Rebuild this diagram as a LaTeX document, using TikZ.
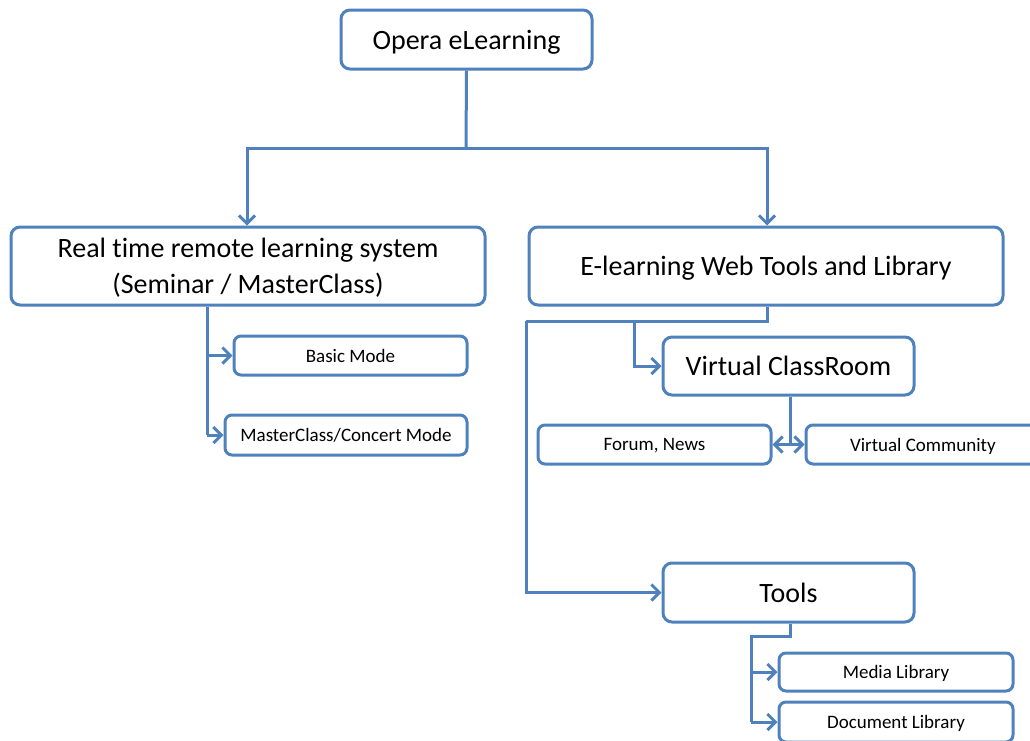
\documentclass[tikz,border=0pt]{standalone}
\usepackage{fontspec}
\setmainfont{Carlito}[Ligatures={NoCommon}]
\usetikzlibrary{arrows.meta}
\definecolor{boxblue}{HTML}{4F81BD}
\tikzset{
  bigbox/.style={draw=boxblue, line width=3pt, rounded corners=9pt, fill=white, align=center, font=\fontsize{28}{36}\selectfont, inner sep=0pt, text depth=0pt},
  smallbox/.style={draw=boxblue, line width=3pt, rounded corners=7pt, fill=white, align=center, font=\fontsize{19}{23}\selectfont, inner sep=0pt, text depth=0pt},
  conn/.style={draw=boxblue, line width=3pt},
  arr/.style={conn, -{Straight Barb[length=8pt,width=16pt,line width=3pt]}},
  darr/.style={conn, {Straight Barb[length=8pt,width=16pt,line width=3pt]}-{Straight Barb[length=8pt,width=16pt,line width=3pt]}}
}
\begin{document}
\begin{tikzpicture}[x=1pt,y=-1pt]
\useasboundingbox (0,0) rectangle (1030,740);
\clip (0,0) rectangle (1030,740);
% nodes
\node[bigbox, minimum width=251pt, minimum height=59pt] (opera) at (466.5,39.5) {Opera eLearning};
\node[bigbox, minimum width=474pt, minimum height=78pt] (rt) at (248,266) {Real time remote learning system\\(Seminar / MasterClass)};
\node[bigbox, minimum width=474pt, minimum height=78pt] (el) at (766,266) {E-learning Web Tools and Library};
\node[smallbox, minimum width=233pt, minimum height=39pt] (basic) at (350.5,355.5) {Basic Mode};
\node[smallbox, minimum width=242pt, minimum height=40pt] (master) at (346,435) {MasterClass/Concert Mode};
\node[bigbox, minimum width=251pt, minimum height=58pt] (vc) at (788.5,366) {Virtual ClassRoom};
\node[smallbox, minimum width=233pt, minimum height=39pt] (forum) at (654.5,444.5) {Forum, News};
\node[smallbox, minimum width=244pt, minimum height=39pt] (comm) at (928,444.5) {\makebox[234pt][l]{\hspace*{39pt}Virtual Community}};
\node[bigbox, minimum width=251pt, minimum height=59pt] (tools) at (788.5,592.5) {Tools};
\node[smallbox, minimum width=234pt, minimum height=38pt] (media) at (896,672) {Media Library};
\node[smallbox, minimum width=234pt, minimum height=40pt] (doc) at (896,722) {Document Library};
% coordinates
\coordinate (t1) at (466,148);
\coordinate (t2) at (247,148);
\coordinate (t3) at (767,148);
\coordinate (r1) at (207,355.5);
\coordinate (r2) at (207,435);
\coordinate (e1) at (767,321);
\coordinate (e2) at (526,321);
\coordinate (e3) at (526,592.5);
\coordinate (e4) at (634,321);
\coordinate (e5) at (634,366);
\coordinate (v1) at (790,444.5);
\coordinate (s1) at (790,636);
\coordinate (s2) at (751,636);
\coordinate (s3) at (751,672);
\coordinate (s4) at (751,722);
% connectors
\draw[conn] (opera.south) -- (t1);
\draw[arr] (t1) -- (t2) -- (t2 |- rt.north);
\draw[arr] (t1) -- (t3) -- (t3 |- el.north);
\draw[conn] (rt.south -| r1) -- (r2);
\draw[arr] (r1) -- (basic.west);
\draw[arr] (r2) -- (master.west);
\draw[conn] (el.south -| e1) -- (e1) -- (e2);
\draw[arr] (e2) -- (e3) -- (tools.west);
\draw[arr] (e4) -- (e5) -- (vc.west);
\draw[conn] (vc.south -| v1) -- (v1);
\draw[darr] (forum.east) -- (comm.west);
\draw[conn] (tools.south -| s1) -- (s1) -- (s2) -- (s4);
\draw[arr] (s3) -- (media.west);
\draw[arr] (s4) -- (doc.west);
\end{tikzpicture}
\end{document}
